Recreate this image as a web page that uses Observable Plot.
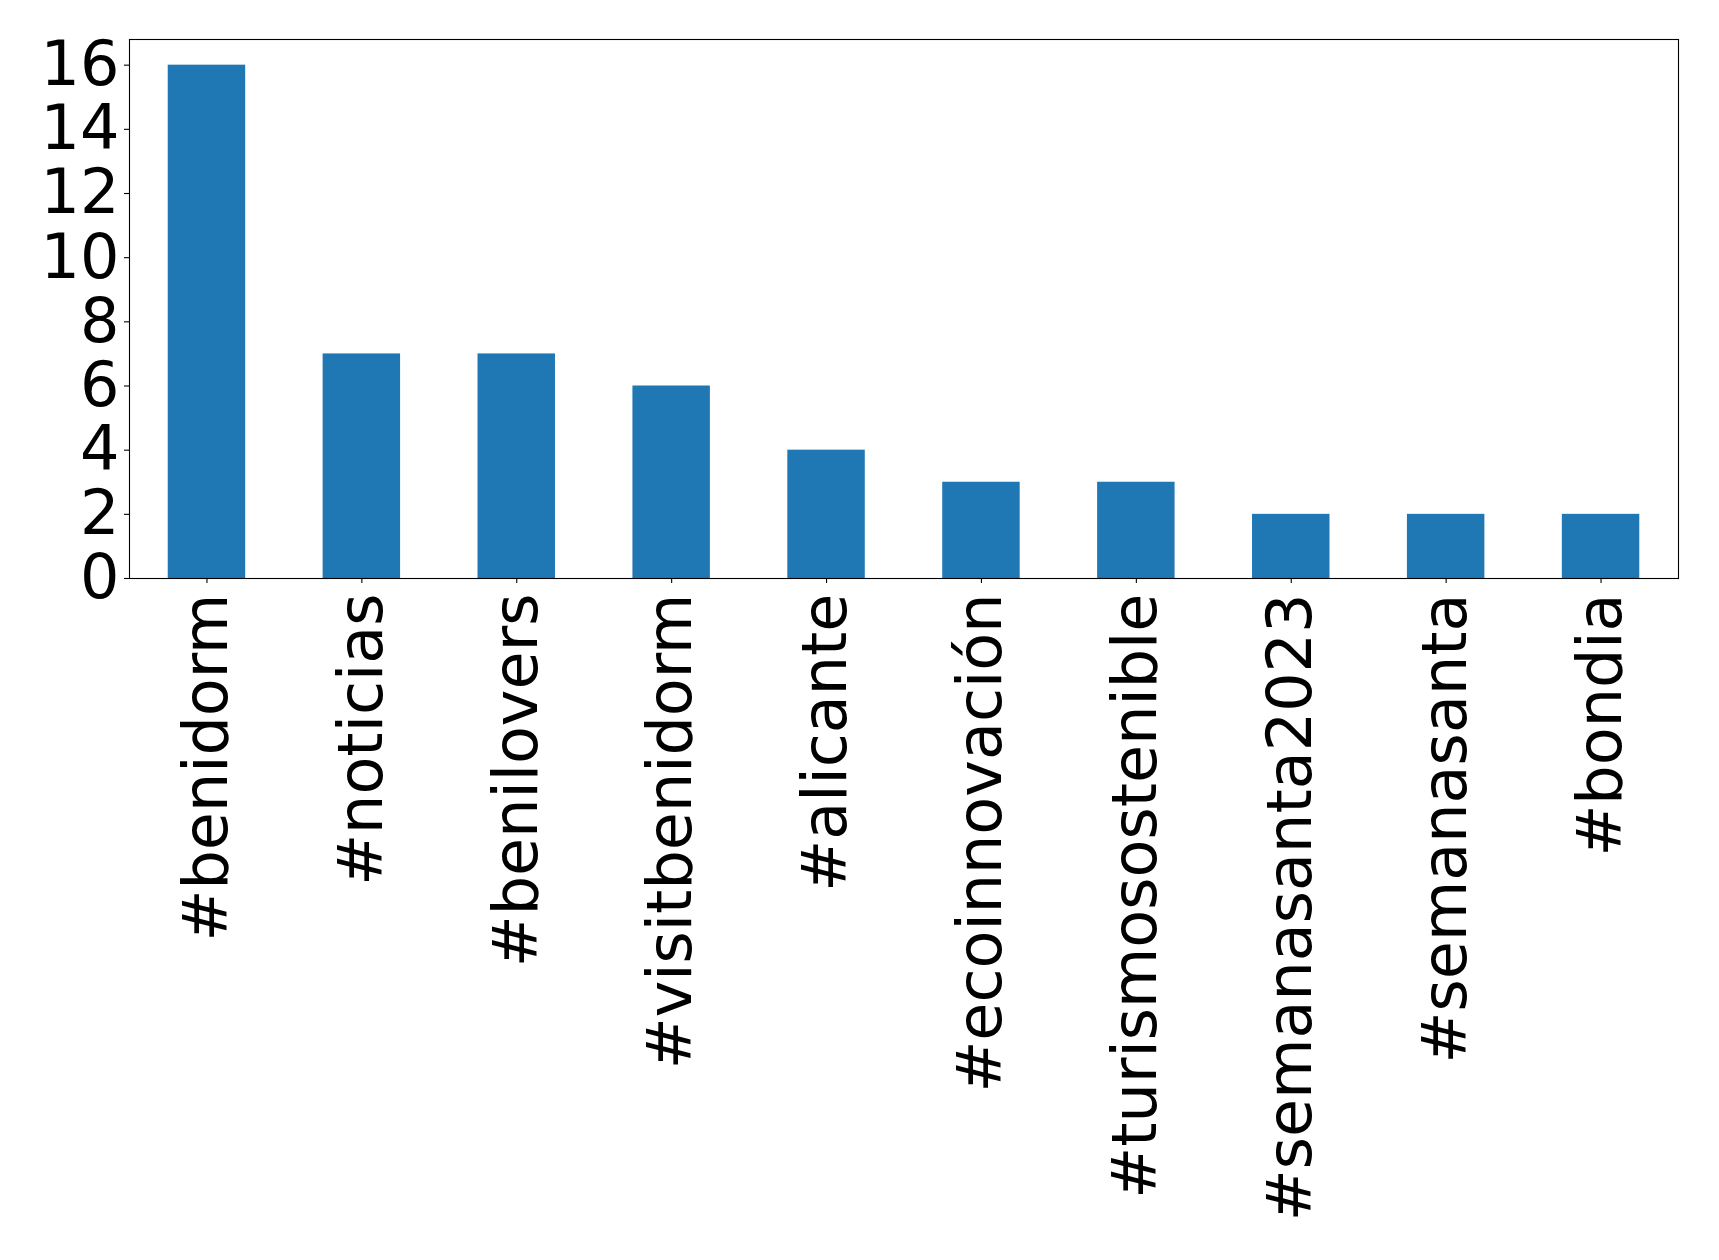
<!DOCTYPE html>
<html>
<head>
<meta charset="utf-8">
<script src="https://cdn.jsdelivr.net/npm/d3@7"></script>
<script src="https://cdn.jsdelivr.net/npm/@observablehq/plot@0.6"></script>
<style>
  html, body { margin: 0; padding: 0; background: #fff; }
  #chart svg { font-family: "DejaVu Sans", sans-serif; background: #fff; }
</style>
</head>
<body>
<div id="chart"></div>
<script>
const hashtags = ["#benidorm", "#noticias", "#benilovers", "#visitbenidorm", "#alicante",
  "#ecoinnovación", "#turismosostenible", "#semanasanta2023", "#semanasanta", "#bondia"];
const counts = [16, 7, 7, 6, 4, 3, 3, 2, 2, 2];
const yTicks = [0, 2, 4, 6, 8, 10, 12, 14, 16];

const data = hashtags.map((h, i) => ({tag: h, count: counts[i]}));

const chart = Plot.plot({
  width: 1719,
  height: 1260,
  marginLeft: 129,
  marginRight: 41,
  marginTop: 39,
  marginBottom: 682,
  style: {fontFamily: "DejaVu Sans, sans-serif", fontSize: "62px", color: "black", background: "white"},
  x: {domain: hashtags, paddingInner: 0.5, paddingOuter: 0.25, round: false, label: null},
  y: {domain: [0, 16.8], label: null},
  marks: [
    Plot.barY(data, {x: "tag", y: "count", fill: "#1f77b4"}),
    Plot.axisY({ticks: yTicks, tickSize: 5, tickPadding: 5, fontSize: 62, label: null, stroke: "black", strokeWidth: 1.1}),
    Plot.axisX({tickSize: 5, tickPadding: 10, tickRotate: -90, fontSize: 62, label: null, stroke: "black", strokeWidth: 1.1}),
    Plot.frame({stroke: "black", strokeWidth: 1.1})
  ]
});
document.getElementById("chart").appendChild(chart);
</script>
</body>
</html>
